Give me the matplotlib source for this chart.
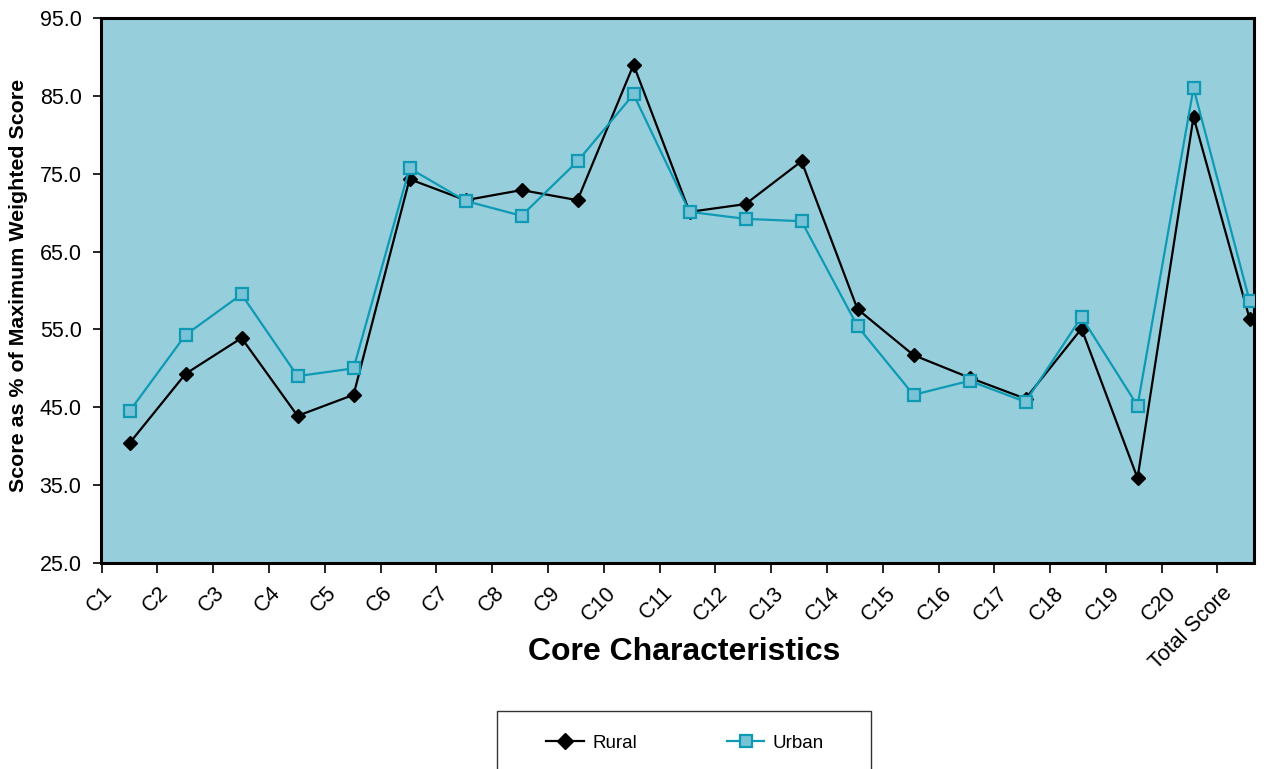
import numpy as np
import matplotlib
matplotlib.use("Agg")
import matplotlib.pyplot as plt
import matplotlib.transforms as mtransforms
from matplotlib.patches import Rectangle

plt.rcParams['font.family'] = ['Liberation Sans', 'DejaVu Sans']

categories = ["C1", "C2", "C3", "C4", "C5", "C6", "C7", "C8", "C9", "C10",
              "C11", "C12", "C13", "C14", "C15", "C16", "C17", "C18", "C19",
              "C20", "Total Score"]
rural = [40.4, 49.3, 53.9, 43.9, 46.6, 74.3, 71.6, 72.9, 71.6, 89.0,
         70.1, 71.1, 76.6, 57.6, 51.7, 48.8, 46.1, 55.1, 35.9, 82.3, 56.4]
urban = [44.5, 54.3, 59.5, 49.0, 50.0, 75.7, 71.5, 69.6, 76.6, 85.2,
         70.1, 69.2, 68.9, 55.4, 46.6, 48.4, 45.7, 56.6, 45.2, 86.0, 58.7]
y_ticks = [25.0, 35.0, 45.0, 55.0, 65.0, 75.0, 85.0, 95.0]

W, H = 1268, 769
fig = plt.figure(figsize=(W / 100, H / 100), dpi=100)
ax = fig.add_axes([101 / W, 1 - 563 / H, (1254 - 101) / W, (563 - 18) / H])
ax.set_facecolor("#97CEDC")

x = np.arange(len(categories))
teal = "#0E9AB4"
ax.plot(x, rural, color="black", lw=1.6, marker="D", ms=7.5,
        mfc="black", mec="black", label="Rural", zorder=3)
ax.plot(x, urban, color=teal, lw=1.6, marker="s", ms=8,
        mfc="#79C3D6", mec=teal, mew=1.6, label="Urban", zorder=4)

ax.set_ylim(25, 95)
ax.set_yticks(y_ticks)
ax.set_yticklabels([f"{v:.1f}" for v in y_ticks], fontsize=15.5)
ax.set_xlim(-0.51, 20.08)

# category labels at the data points, tick marks on category boundaries
ax.set_xticks(x)
ax.set_xticklabels(categories, rotation=45, ha="right", va="top", fontsize=15.5)
ax.set_xticks(np.arange(len(categories)) * 0.9964 - 0.5, minor=True)
ax.tick_params(axis="x", which="major", length=0, pad=14)
ax.tick_params(axis="x", which="minor", length=7, width=1.2, direction="out")
ax.tick_params(axis="y", length=6, width=1.2, direction="out", pad=8)
shift = mtransforms.ScaledTranslation(-13 / 100, 0, fig.dpi_scale_trans)
for lbl in ax.get_xticklabels():
    lbl.set_transform(lbl.get_transform() + shift)

for s in ax.spines.values():
    s.set_linewidth(2.2)
    s.set_color("black")

fig.text(684 / W, 1 - 652 / H, "Core Characteristics", ha="center", va="center",
         fontsize=23, fontweight="bold")
ax.set_ylabel("Score as % of Maximum Weighted Score", fontsize=15.4, fontweight="bold")
ax.yaxis.set_label_coords(-0.0635, 0.51)

# legend box
fig.patches.append(Rectangle((497 / W, 1 - 776 / H), 374 / W, 65 / H,
                             transform=fig.transFigure, facecolor="white",
                             edgecolor="#333333", lw=1.0))
fig.legend(*ax.get_legend_handles_labels(), loc="center",
           bbox_to_anchor=(685 / W, 1 - 743 / H), ncol=2, frameon=False,
           fontsize=13.5, handlelength=2.0, handletextpad=0.45, columnspacing=4.8,
           markerscale=1.05)

fig.savefig("out.png", dpi=100)
